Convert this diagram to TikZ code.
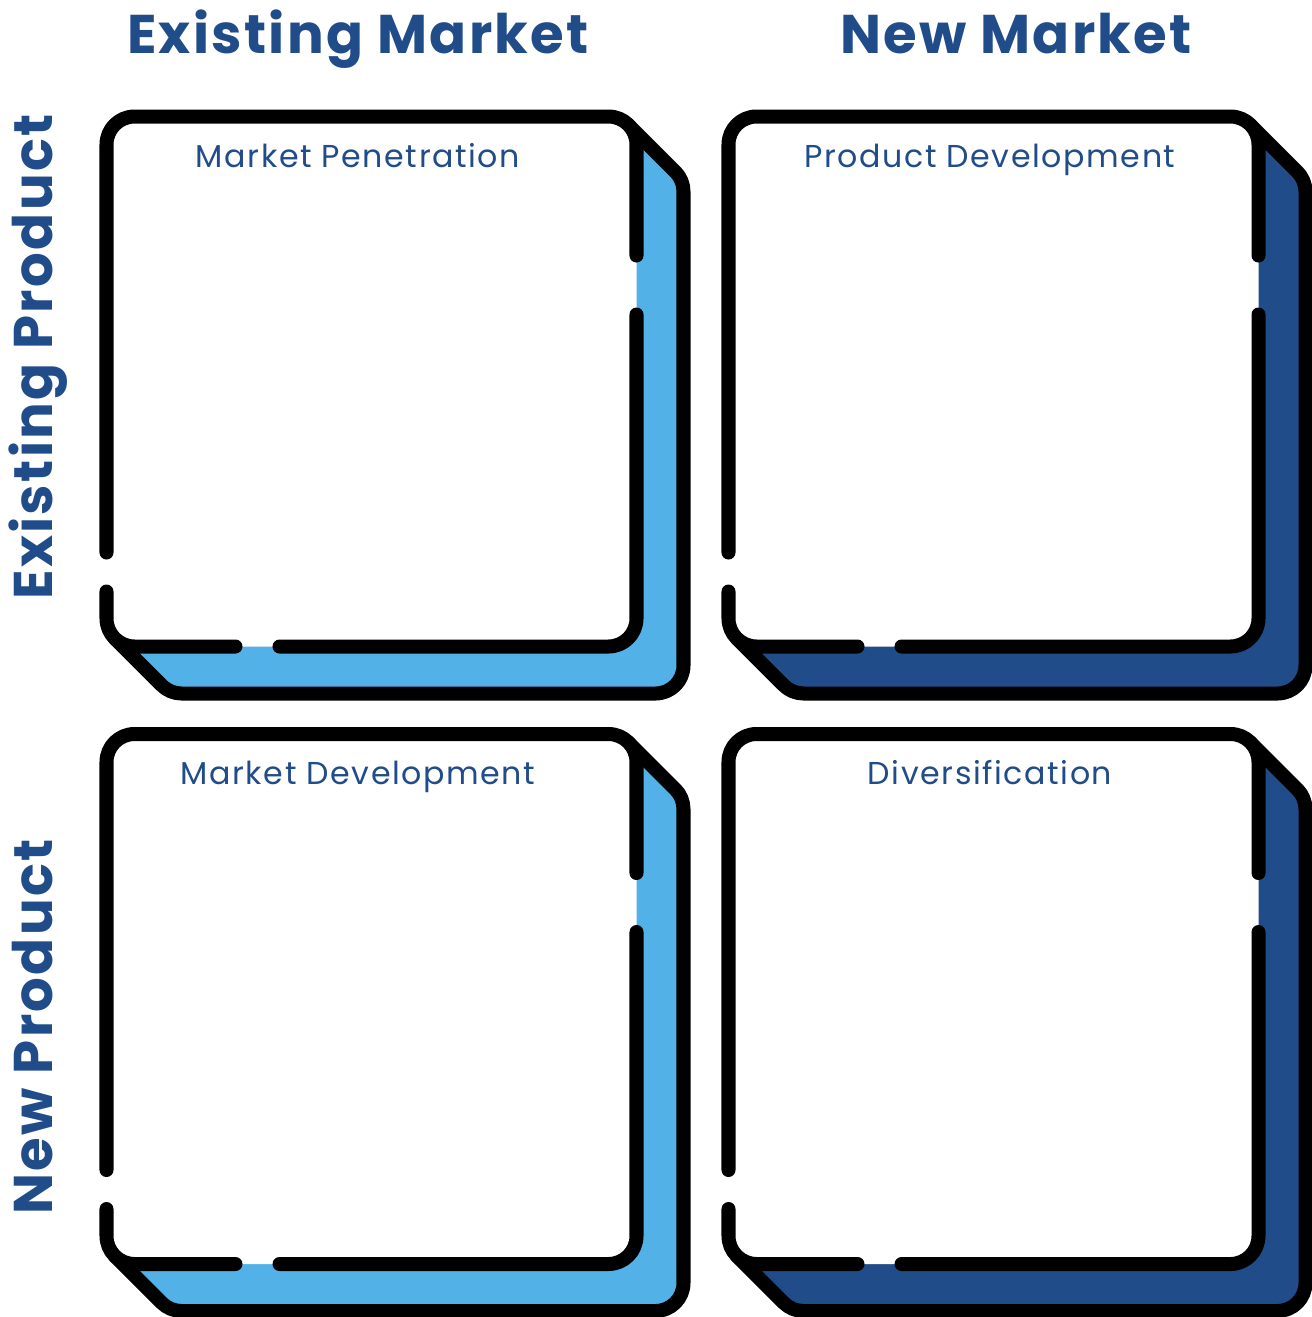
\documentclass[tikz,border=0pt]{standalone}
\usepackage{fontspec}
\setmainfont{Poppins}
\newfontfamily\headfont[LetterSpace=4.3]{Poppins}
\newfontfamily\labelfont[LetterSpace=5]{Poppins}
\usepackage{tikz}
\definecolor{skyblue}{HTML}{52B2E8}
\definecolor{navyblue}{HTML}{214C8A}
\tikzset{
  outline/.style={line width=0.14cm, line cap=round, line join=round, rounded corners=0.28cm},
  headtext/.style={text=navyblue, font=\headfont\fontsize{15.5}{18}\selectfont\bfseries, anchor=base, inner sep=0pt},
  boxtext/.style={text=navyblue, font=\labelfont\fontsize{9}{11}\selectfont, anchor=base, inner sep=0pt}
}
% one quadrant: #1,#2 top left corner, #3 colour of the back plate
\newcommand{\stratbox}[3]{%
  \begin{scope}[shift={(#1,#2)}]
    \filldraw[line width=0.14cm, line join=round, fill=#3] (521.8,8.2) -- (568.8,55.2) arc(-45:0:28) -- (577,549) arc(0:90:28) -- (75,577) arc(90:135:28) -- (8.2,521.8) -- cycle;
    \fill[white, rounded corners=0.28cm] (0,0) rectangle (530,530);
    \draw[outline] (0,475) -- (0,530) -- (129,530);
    \draw[outline] (173,530) -- (530,530) -- (530,198);
    \draw[outline] (530,139) -- (530,0) -- (0,0) -- (0,436);
  \end{scope}}

\begin{document}
\begin{tikzpicture}[x=0.01cm, y=-0.01cm]
  \useasboundingbox (0,0) rectangle (1312,1317);

  \stratbox{106.5}{116.5}{skyblue}
  \stratbox{728.5}{116.5}{navyblue}
  \stratbox{106.5}{734}{skyblue}
  \stratbox{728.5}{734}{navyblue}

  % headings
  \node[headtext] (existing market) at (358,53) {Existing Market};
  \node[headtext] (new market) at (1016,53) {New Market};
  \node[headtext, rotate=90] (existing product) at (53,357) {Existing Product};
  \node[headtext, rotate=90] (new product) at (53,1027) {New Product};

  % quadrant labels
  \node[boxtext] (penetration) at (358,167) {Market Penetration};
  \node[boxtext] (product dev) at (990,167) {Product Development};
  \node[boxtext] (market dev) at (358,784) {Market Development};
  \node[boxtext] (diversification) at (990,784) {Diversification};
\end{tikzpicture}
\end{document}
